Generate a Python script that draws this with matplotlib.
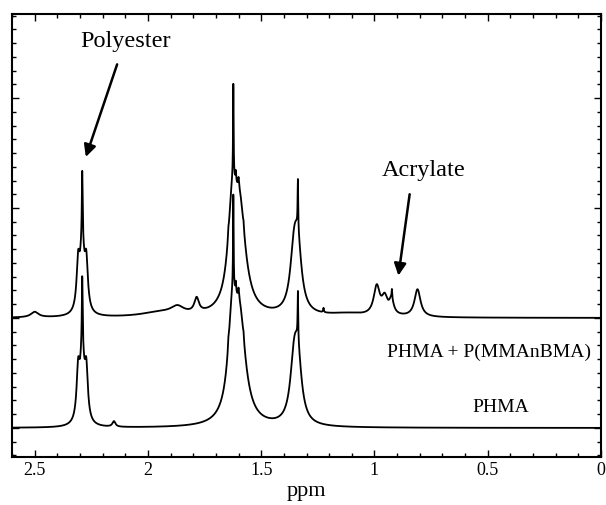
import numpy as np
import matplotlib
matplotlib.use("Agg")
import matplotlib.pyplot as plt
from matplotlib.ticker import MultipleLocator

# peak tables: centre (ppm), height (above baseline), half width (ppm)
blend_centres = [2.50, 2.308, 2.290, 2.290, 2.272, 1.95, 1.87, 1.785,
                 1.628, 1.595, 1.623, 1.645, 1.612, 1.600, 1.578,
                 1.355, 1.338, 1.338, 1.225, 1.12,
                 0.990, 0.955, 0.925, 0.923, 0.810]
blend_heights = [0.05, 0.40, 0.60, 0.60, 0.40, 0.04, 0.07, 0.13,
                 0.80, 0.90, 0.86, 0.06, 0.10, 0.08, 0.05,
                 0.50, 0.50, 0.45, 0.04, 0.03,
                 0.26, 0.15, 0.13, 0.08, 0.25]
blend_widths = [0.020, 0.008, 0.012, 0.002, 0.008, 0.10, 0.035, 0.012,
                0.022, 0.031, 0.0015, 0.002, 0.002, 0.002, 0.002,
                0.020, 0.020, 0.0015, 0.002, 0.10,
                0.016, 0.015, 0.012, 0.0015, 0.016]

phma_centres = [2.308, 2.290, 2.290, 2.272, 2.150,
                1.628, 1.595, 1.623, 1.645, 1.612, 1.600, 1.578,
                1.355, 1.338, 1.338]
phma_heights = [0.42, 0.62, 0.62, 0.42, 0.05,
                0.80, 0.90, 0.86, 0.06, 0.10, 0.08, 0.05,
                0.50, 0.50, 0.44]
phma_widths = [0.008, 0.012, 0.002, 0.008, 0.008,
               0.022, 0.031, 0.0015, 0.002, 0.002, 0.002, 0.002,
               0.020, 0.020, 0.0015]

blend_offset = 1.0
phma_offset = 0.0


def spectrum(ppm, centres, heights, widths):
    y = np.zeros_like(ppm)
    for c, h, w in zip(centres, heights, widths):
        y += h / (1 + ((ppm - c) / w) ** 2)
    return y


ppm = np.linspace(2.6, 0, 6000)

plt.rcParams['font.family'] = ['Liberation Serif', 'DejaVu Serif']
fig = plt.figure(figsize=(6.06, 5.05), dpi=100)
ax = fig.add_axes([12 / 606, 48 / 505, 589 / 606, 443 / 505])

ax.plot(ppm, spectrum(ppm, blend_centres, blend_heights, blend_widths) + blend_offset,
        color='black', lw=1.3)
ax.plot(ppm, spectrum(ppm, phma_centres, phma_heights, phma_widths) + phma_offset,
        color='black', lw=1.3)

ax.set_xlim(2.6, 0)
ax.set_ylim(-0.264, 3.764)
ax.xaxis.set_major_locator(MultipleLocator(0.5))
ax.xaxis.set_minor_locator(MultipleLocator(0.1))
ax.yaxis.set_major_locator(MultipleLocator(1))
ax.yaxis.set_minor_locator(MultipleLocator(0.125))
ax.xaxis.set_major_formatter(plt.FuncFormatter(lambda v, p: f'{v:g}'))
ax.tick_params(which='both', direction='in', top=True, right=True, width=1)
ax.tick_params(which='major', length=5, labelsize=13)
ax.tick_params(which='minor', length=3)
ax.tick_params(axis='y', labelleft=False)
for s in ax.spines.values():
    s.set_linewidth(1.5)
ax.set_xlabel('ppm', fontsize=16, labelpad=2)

arrow = dict(arrowstyle='-|>', color='black', lw=1.8, mutation_scale=18)
ax.annotate('', xy=(2.278, 2.44), xytext=(2.132, 3.33), arrowprops=arrow)
ax.text(2.10, 3.51, 'Polyester', fontsize=17.5, ha='center', va='center')
ax.annotate('', xy=(0.896, 1.36), xytext=(0.843, 2.15), arrowprops=arrow)
ax.text(0.785, 2.345, 'Acrylate', fontsize=17.5, ha='center', va='center')

ax.text(0.494, 0.69, 'PHMA + P(MMAnBMA)', fontsize=14, ha='center', va='center')
ax.text(0.441, 0.19, 'PHMA', fontsize=14, ha='center', va='center')

fig.savefig('out.png', dpi=100)
